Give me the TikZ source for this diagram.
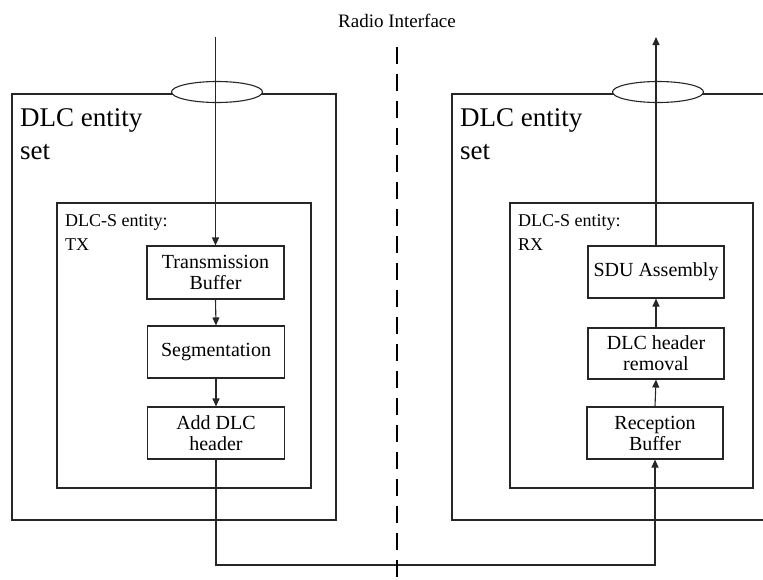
\documentclass[tikz,border=0pt]{standalone}
\usepackage{fontspec}
\setmainfont{Liberation Serif}
\usetikzlibrary{arrows.meta,shapes.geometric}
\tikzset{
  ln/.style={draw=black!85,line width=1.1pt},
  arr/.style={ln,-{Triangle[length=8pt,width=7pt]}},
  blk/.style={ln,rectangle,inner sep=0pt,align=center,font=\fontsize{20}{21}\selectfont},
  ring/.style={ln,ellipse,fill=white,minimum width=91pt,minimum height=21pt,inner sep=0pt},
  bigtxt/.style={anchor=north west,inner sep=0pt,align=left,font=\fontsize{27}{33}\selectfont},
  smtxt/.style={anchor=north west,inner sep=0pt,align=left,font=\fontsize{18}{24}\selectfont}
}
\begin{document}
\begin{tikzpicture}[x=1pt,y=-1pt]
\useasboundingbox (0,0) rectangle (763,579);
% outer boxes
\draw[ln] (12,94) rectangle (336,520);
\draw[ln] (766,94) -- (452,94) -- (452,520) -- (766,520);
% inner boxes
\draw[ln] (57,203) rectangle (311,488);
\draw[ln] (510,203) rectangle (753,488);
% labels
\node[bigtxt] (setL) at (20,108.6) {DLC entity\\set};
\node[bigtxt] (setR) at (460,108.6) {DLC entity\\set};
\node[smtxt] (tx) at (65,214.7) {DLC-S entity:\\TX};
\node[smtxt] (rx) at (518,214.7) {DLC-S entity:\\RX};
\node[font=\fontsize{19}{21}\selectfont,inner sep=0pt] (radio) at (397,21) {Radio Interface};
% ellipses
\node[ring] (ellL) at (217,92) {};
\node[ring] (ellR) at (658,92) {};
% blocks
\node[blk,minimum width=137pt,minimum height=53pt] (tb) at (215.5,272.5) {Transmission\\Buffer};
\node[blk,minimum width=137pt,minimum height=52pt] (seg) at (216,352) {Segmentation};
\node[blk,minimum width=137pt,minimum height=52pt] (add) at (216,433) {Add DLC\\header};
\node[blk,minimum width=136pt,minimum height=52pt] (sdu) at (656,272) {SDU Assembly};
\node[blk,minimum width=136pt,minimum height=51pt] (rem) at (656,353.5) {DLC header\\removal};
\node[blk,minimum width=136pt,minimum height=52pt] (rb) at (655,433) {Reception\\Buffer};
% coordinates
\coordinate (inL) at (215.5,37);
\coordinate (outR) at (656,37);
\coordinate (bot) at (0,565);
\coordinate (dtop) at (397,47);
\coordinate (dbot) at (397,582);
% connectors
\draw[arr] (inL) -- (tb.north);
\draw[arr] (tb.south) -- (seg.north);
\draw[arr] (seg.south) -- (add.north);
\draw[arr] (add.south) -- (add.south |- bot) -| (rb.south);
\draw[arr] (rb.north) -- (rem.south);
\draw[arr] (rem.north) -- (sdu.south);
\draw[arr] (sdu.north) -- (outR);
% radio interface divider
\draw[black,line width=2.6pt,dash pattern=on 17pt off 10pt] (dtop) -- (dbot);
\end{tikzpicture}
\end{document}
